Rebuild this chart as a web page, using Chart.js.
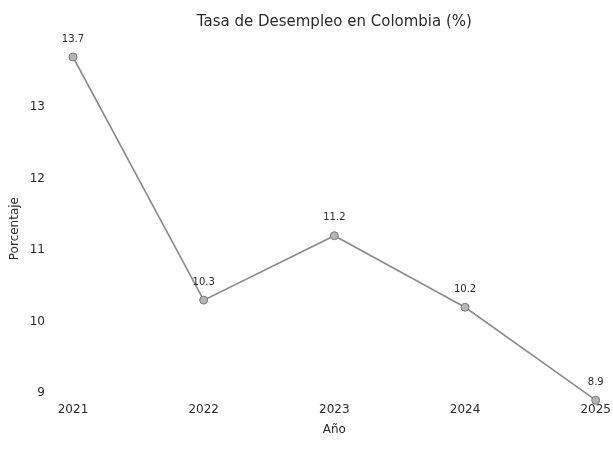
<!DOCTYPE html>
<html>
<head>
<meta charset="utf-8">
<script src="https://cdn.jsdelivr.net/npm/chart.js@4/dist/chart.umd.min.js"></script>
<style>
html,body{margin:0;padding:0;background:#fff;}
#wrap{width:613px;height:466px;position:relative;}
</style>
</head>
<body>
<div id="wrap"><canvas id="c" width="613" height="466"></canvas></div>
<script>
const years = ['2021', '2022', '2023', '2024', '2025'];
const unemployment = [13.7, 10.3, 11.2, 10.2, 8.9];
const chartTitle = 'Tasa de Desempleo en Colombia (%)';
const xTitle = 'Año';
const yTitle = 'Porcentaje';

const FONT = "'DejaVu Sans', sans-serif";
const TEXT = '#2b2b2b';

const titlePlugin = {
  id: 'areaTitle',
  afterDraw(chart) {
    const {ctx, chartArea} = chart;
    ctx.save();
    ctx.font = '15px ' + FONT;
    ctx.fillStyle = TEXT;
    ctx.textAlign = 'center';
    ctx.textBaseline = 'middle';
    ctx.fillText(chartTitle, (chartArea.left + chartArea.right) / 2, 22);
    ctx.restore();
  }
};

const labelPlugin = {
  id: 'pointLabels',
  afterDatasetsDraw(chart) {
    const {ctx} = chart;
    const meta = chart.getDatasetMeta(0);
    const data = chart.data.datasets[0].data;
    ctx.save();
    ctx.font = '10px ' + FONT;
    ctx.fillStyle = TEXT;
    ctx.textAlign = 'center';
    ctx.textBaseline = 'middle';
    meta.data.forEach((pt, i) => {
      ctx.fillText(data[i].toFixed(1), pt.x, pt.y - 18);
    });
    ctx.restore();
  }
};

new Chart(document.getElementById('c'), {
  type: 'line',
  data: {
    labels: years,
    datasets: [{
      data: unemployment,
      borderColor: '#8c8c8c',
      borderWidth: 1.6,
      backgroundColor: '#b0b0b0',
      pointBackgroundColor: '#b5b5b5',
      pointBorderColor: '#7a7a7a',
      pointBorderWidth: 1,
      pointRadius: 4,
      tension: 0,
      clip: false
    }]
  },
  options: {
    responsive: false,
    animation: false,
    events: [],
    layout: { padding: { top: 57, left: 4, right: 0, bottom: 29 } },
    plugins: { legend: { display: false }, tooltip: { enabled: false }, title: { display: false } },
    scales: {
      x: {
        type: 'category',
        offset: false,
        grid: { display: false, drawTicks: false },
        border: { display: false },
        ticks: { color: TEXT, font: { family: FONT, size: 12 }, padding: 2, maxRotation: 0 },
        title: { display: true, text: xTitle, color: TEXT, font: { family: FONT, size: 12 }, padding: { top: 4, bottom: 0 } }
      },
      y: {
        min: 8.9,
        max: 13.7,
        afterFit(scale) { scale.width = 69; },
        grid: { display: false, drawTicks: false },
        border: { display: false },
        ticks: { stepSize: 1, includeBounds: false, color: TEXT, font: { family: FONT, size: 12 }, padding: 28 },
        title: { display: true, text: yTitle, color: TEXT, font: { family: FONT, size: 12 }, padding: { top: 4, bottom: 4 } }
      }
    }
  },
  plugins: [titlePlugin, labelPlugin]
});
</script>
</body>
</html>
